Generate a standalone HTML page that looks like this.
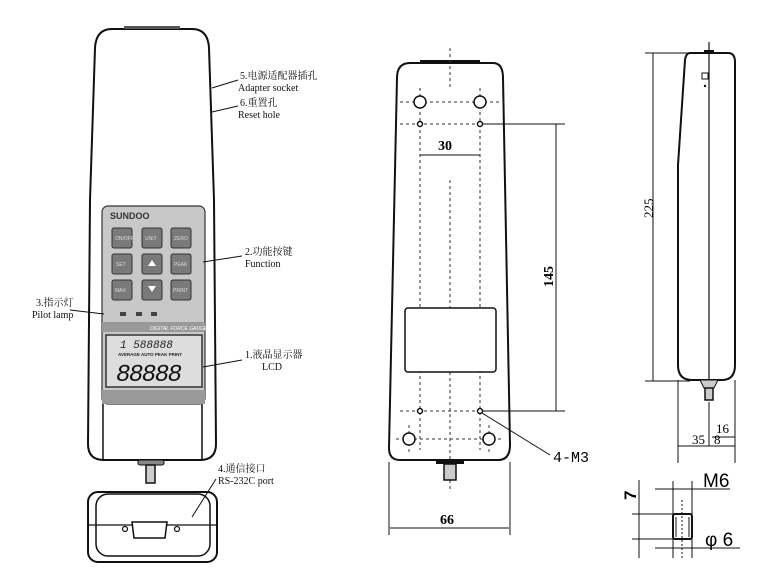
<!DOCTYPE html>
<html><head><meta charset="utf-8"><style>
body{margin:0;background:#fff;}
svg{display:block;font-family:"Liberation Serif","Noto Serif CJK SC",serif;}
</style></head><body>
<svg width="780" height="574" viewBox="0 0 780 574" xmlns="http://www.w3.org/2000/svg">
<rect width="780" height="574" fill="#fff"/>
<!-- LEFT DEVICE -->
<path d="M112,29 L192,29 Q208,29 209,48 L214,200 L216,444 Q216,460 200,460 L104,460 Q88,460 88,444 L90,200 L95,48 Q96,29 112,29 Z" fill="#fff" stroke="#111" stroke-width="2"/>
<rect x="124" y="26" width="56" height="3" fill="#555"/>
<line x1="103" y1="404" x2="103" y2="459" stroke="#111" stroke-width="1.5"/>
<line x1="202" y1="404" x2="202" y2="459" stroke="#111" stroke-width="1.5"/>
<rect x="102" y="206" width="103" height="198" rx="6" fill="#c8c8c8" stroke="#333" stroke-width="1.2"/>
<text x="110" y="219" font-family="Liberation Sans,sans-serif" font-weight="bold" font-size="9" fill="#333">SUNDOO</text>
<g fill="#7a7a7a" stroke="#333" stroke-width="1">
<rect x="112" y="228" width="20" height="20" rx="2"/><rect x="142" y="228" width="20" height="20" rx="2"/><rect x="171" y="228" width="20" height="20" rx="2"/>
<rect x="112" y="254" width="20" height="20" rx="2"/><rect x="142" y="254" width="20" height="20" rx="2"/><rect x="171" y="254" width="20" height="20" rx="2"/>
<rect x="112" y="280" width="20" height="20" rx="2"/><rect x="142" y="280" width="20" height="20" rx="2"/><rect x="171" y="280" width="20" height="20" rx="2"/>
</g>
<g font-family="Liberation Sans,sans-serif" font-size="5" fill="#ddd">
<text x="115" y="240">ON/OFF</text><text x="145" y="240">UNIT</text><text x="174" y="240">ZERO</text>
<text x="116" y="266">SET</text><text x="174" y="266">PEAK</text>
<text x="115" y="292">MAX</text><text x="173" y="292">PRINT</text>
</g>
<path d="M148,266 l4,-6 l4,6z M148,286 l4,6 l4,-6z" fill="#fff"/>
<rect x="120" y="312" width="6" height="4" fill="#444"/><rect x="136" y="312" width="6" height="4" fill="#444"/><rect x="151" y="312" width="6" height="4" fill="#444"/>
<rect x="102" y="322" width="103" height="10" fill="#999"/>
<text x="150" y="330" font-family="Liberation Sans,sans-serif" font-size="5" font-style="italic" fill="#fff">DIGITAL FORCE GAUGE</text>
<rect x="106" y="335" width="96" height="52" fill="#ddd" stroke="#333" stroke-width="1.5"/>
<text x="120" y="348" font-family="Liberation Mono,monospace" font-size="11" font-style="italic" fill="#222">1 588888</text>
<text x="118" y="356" font-family="Liberation Sans,sans-serif" font-weight="bold" font-size="4.5" fill="#222">AVERAGE   AUTO PEAK   PRINT</text>
<text x="116" y="381" font-family="Liberation Mono,monospace" font-size="24" font-style="italic" fill="#111" textLength="66">88888</text>
<rect x="102" y="390" width="103" height="14" fill="#999"/>
<rect x="138" y="460" width="26" height="5" rx="2" fill="#888" stroke="#111"/>
<rect x="146" y="465" width="9" height="18" fill="#ccc" stroke="#111" stroke-width="1.5"/>
<rect x="88" y="492" width="129" height="70" rx="10" fill="#fff" stroke="#111" stroke-width="2"/>
<rect x="96" y="494" width="114" height="62" rx="12" fill="none" stroke="#111" stroke-width="1.5"/>
<line x1="88" y1="525" x2="217" y2="525" stroke="#111" stroke-width="1.2"/>
<path d="M132,522 L167,522 L165,538 L134,538 Z" fill="#fff" stroke="#111" stroke-width="1.5"/>
<circle cx="125" cy="529" r="2.5" fill="none" stroke="#111" stroke-width="1.2"/><circle cx="177" cy="529" r="2.5" fill="none" stroke="#111" stroke-width="1.2"/>
<!-- leaders -->
<g stroke="#111" stroke-width="1" fill="none">
<line x1="212" y1="88" x2="238" y2="80"/><line x1="212" y1="112" x2="238" y2="106"/>
<line x1="203" y1="262" x2="242" y2="256"/><line x1="70" y1="310" x2="104" y2="314"/>
<line x1="203" y1="367" x2="242" y2="360"/><line x1="192" y1="517" x2="216" y2="479"/>
</g>
<g font-size="10" fill="#111">
<text x="240" y="79">5.电源适配器插孔</text><text x="238" y="91">Adapter socket</text>
<text x="240" y="106">6.重置孔</text><text x="238" y="118">Reset hole</text>
<text x="245" y="255">2.功能按键</text><text x="245" y="267">Function</text>
<text x="36" y="306">3.指示灯</text><text x="32" y="318">Pilot lamp</text>
<text x="245" y="358">1.液晶显示器</text><text x="262" y="370">LCD</text>
<text x="218" y="472">4.通信接口</text><text x="218" y="484">RS-232C port</text>
</g>
<!-- MIDDLE -->
<path d="M410,63 L493,63 Q503,63 503,78 L510,445 Q510,460 498,460 L400,460 Q389,460 389,448 L397,78 Q397,63 410,63 Z" fill="#fff" stroke="#111" stroke-width="2"/>
<rect x="420" y="60" width="60" height="4" fill="#111"/>
<g stroke="#333" stroke-width="1" stroke-dasharray="3,3" fill="none">
<line x1="450" y1="48" x2="450" y2="90"/><line x1="450" y1="180" x2="450" y2="490"/>
<line x1="420" y1="88" x2="420" y2="450"/><line x1="480" y1="88" x2="480" y2="450"/>
<line x1="400" y1="102" x2="500" y2="102"/><line x1="400" y1="124" x2="500" y2="124"/>
<line x1="400" y1="411" x2="500" y2="411"/><line x1="396" y1="439" x2="504" y2="439"/>
<line x1="409" y1="425" x2="409" y2="455"/><line x1="489" y1="425" x2="489" y2="455"/>
</g>
<g fill="#fff" stroke="#111" stroke-width="1.5">
<circle cx="420" cy="102" r="6"/><circle cx="480" cy="102" r="6"/>
<circle cx="420" cy="124" r="2.5"/><circle cx="480" cy="124" r="2.5"/>
<circle cx="420" cy="411" r="2.5"/><circle cx="480" cy="411" r="2.5"/>
<circle cx="409" cy="439" r="6"/><circle cx="489" cy="439" r="6"/>
<rect x="405" y="308" width="91" height="64" rx="3"/>
</g>
<rect x="436" y="460" width="28" height="4" fill="#111"/>
<rect x="444" y="464" width="12" height="16" fill="#ccc" stroke="#111" stroke-width="1.5"/>
<g stroke="#111" stroke-width="1" fill="none">
<line x1="420" y1="155" x2="480" y2="155"/>
<line x1="483" y1="124" x2="565" y2="124"/><line x1="483" y1="411" x2="565" y2="411"/>
<line x1="556" y1="124" x2="556" y2="411"/>
<line x1="389" y1="462" x2="389" y2="535"/><line x1="510" y1="462" x2="510" y2="535"/>
<line x1="390" y1="528" x2="509" y2="528"/>
<line x1="482" y1="413" x2="550" y2="455"/>
</g>
<text x="438" y="150" font-size="14" font-weight="bold">30</text>
<text x="440" y="524" font-size="14" font-weight="bold">66</text>
<text x="553" y="462" font-size="15" font-family="Liberation Mono,monospace">4-M3</text>
<text transform="translate(553,287) rotate(-90)" font-size="14" font-weight="bold">145</text>
<!-- RIGHT -->
<path d="M690,53 L728,53 Q735,53 735,62 L735,365 Q735,380 722,380 L692,380 Q678,380 678,365 L678,165 L685,60 Q686,53 690,53 Z" fill="#fff" stroke="#111" stroke-width="2"/>
<line x1="709" y1="42" x2="709" y2="380" stroke="#111" stroke-width="1.2"/>
<rect x="704" y="50" width="10" height="3" fill="#111"/>
<rect x="702" y="73" width="6" height="6" fill="none" stroke="#111"/>
<circle cx="705" cy="86" r="1.2" fill="#111"/>
<path d="M700,380 L718,380 L714,388 L704,388 Z" fill="#ccc" stroke="#111"/>
<rect x="705" y="388" width="8" height="12" fill="#ccc" stroke="#111" stroke-width="1.5"/>
<g stroke="#111" stroke-width="1" fill="none">
<line x1="645" y1="53" x2="700" y2="53"/><line x1="645" y1="381" x2="690" y2="381"/>
<line x1="653" y1="53" x2="653" y2="381"/>
<line x1="709" y1="402" x2="709" y2="446"/>
<line x1="678" y1="380" x2="678" y2="463"/><line x1="735" y1="380" x2="735" y2="463"/>
<line x1="678" y1="446" x2="735" y2="446"/>
<line x1="712" y1="437" x2="735" y2="437"/>
<!-- bottom detail -->
<line x1="639" y1="480" x2="639" y2="558"/>
<line x1="632" y1="514" x2="675" y2="514"/><line x1="632" y1="539" x2="675" y2="539"/>
<line x1="673" y1="481" x2="673" y2="514"/><line x1="692" y1="481" x2="692" y2="514"/>
<line x1="655" y1="489" x2="730" y2="489"/>
<line x1="655" y1="548" x2="740" y2="548"/>
<line x1="673" y1="539" x2="673" y2="558"/><line x1="692" y1="539" x2="692" y2="558"/>
<line x1="682" y1="500" x2="682" y2="558" stroke-dasharray="2,2"/>
</g>
<rect x="673" y="514" width="19" height="25" rx="2" fill="none" stroke="#111" stroke-width="2"/>
<line x1="676" y1="517" x2="676" y2="537" stroke="#111"/><line x1="689" y1="517" x2="689" y2="537" stroke="#111"/>
<text transform="translate(653,218) rotate(-90)" font-size="13">225</text>
<text x="716" y="433" font-size="13">16</text>
<text x="692" y="444" font-size="13">35</text><text x="714" y="444" font-size="13">8</text>
<text x="703" y="487" font-size="19" font-family="Liberation Sans,sans-serif">M6</text>
<text x="705" y="546" font-size="19" font-family="Liberation Sans,sans-serif">φ 6</text>
<text transform="translate(636,500) rotate(-90)" font-size="17" font-family="Liberation Sans,sans-serif" font-weight="bold">7</text>
</svg>
</body></html>
